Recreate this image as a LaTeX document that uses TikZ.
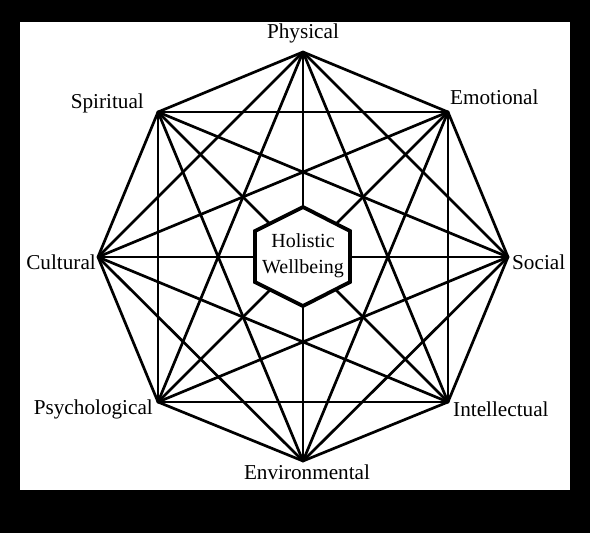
\documentclass[tikz,border=0pt]{standalone}
\usepackage{fontspec}
\setmainfont{Liberation Serif}
\begin{document}
\begin{tikzpicture}[x=1pt,y=-1pt,
  lbl/.style={inner sep=0pt,font=\fontsize{21.2}{26}\selectfont},
  edge/.style={line width=2.7pt,line cap=round,line join=round},
  hexa/.style={line width=3.8pt,fill=white,line join=miter}]
\useasboundingbox (0,0) rectangle (590,533);
\fill[black] (0,0) rectangle (590,533);
\fill[white] (20,22) rectangle (570,490);
% octagon vertices
\coordinate (v1) at (303,52);
\coordinate (v2) at (448,112);
\coordinate (v3) at (508,257);
\coordinate (v4) at (448,402);
\coordinate (v5) at (303,461);
\coordinate (v6) at (158,402);
\coordinate (v7) at (98,257);
\coordinate (v8) at (158,112);
% all connections
\foreach \i in {1,...,8}{
  \foreach \j in {1,...,8}{
    \ifnum\i<\j
      \draw[edge] (v\i) -- (v\j);
    \fi
  }
}
% centre hexagon
\draw[hexa] (303,207) -- (350,231) -- (350,282) -- (303,306) -- (255,282) -- (255,231) -- cycle;
\node[lbl,align=center,font=\fontsize{20}{26}\selectfont] (hw) at (303,256) {Holistic\\Wellbeing};
% labels
\node[lbl] (phys) at (303,33) {Physical};
\node[lbl,anchor=west] (emo) at (450,97) {Emotional};
\node[lbl,anchor=west] (soc) at (512,262) {Social};
\node[lbl,anchor=west] (int) at (453,409) {Intellectual};
\node[lbl] (env) at (307,472) {Environmental};
\node[lbl,anchor=east] (psy) at (153,409) {Psychological};
\node[lbl,anchor=east] (cul) at (96,262) {Cultural};
\node[lbl,anchor=east] (spi) at (144,103) {Spiritual};
\end{tikzpicture}
\end{document}
